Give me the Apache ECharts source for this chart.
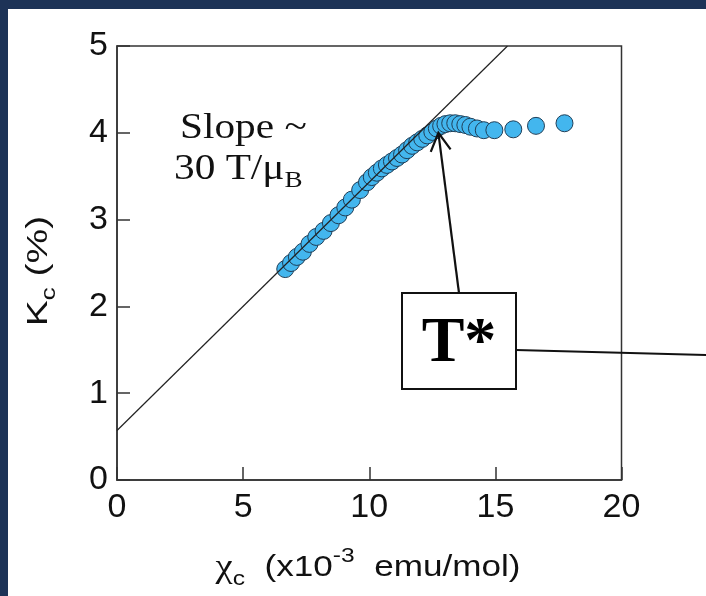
<!DOCTYPE html>
<html>
<head>
<meta charset="utf-8">
<script src="https://cdn.jsdelivr.net/npm/echarts@6/dist/echarts.min.js"></script>
<style>
  html, body { margin: 0; padding: 0; background: #1d3357; width: 706px; height: 596px; overflow: hidden; }
  #chart { position: absolute; left: 8px; top: 9px; width: 698px; height: 587px; background: #ffffff; }
</style>
</head>
<body>
<div id="chart"></div>
<script>
// Knight shift K_c versus susceptibility chi_c
const chiValues = [6.67, 6.90, 7.13, 7.37, 7.63, 7.90, 8.19, 8.48, 8.78, 9.05, 9.31, 9.64, 9.91,
  10.10, 10.30, 10.50, 10.70, 10.90, 11.10, 11.30, 11.50, 11.70, 11.90, 12.10, 12.30, 12.50,
  12.68, 12.85, 13.02, 13.21, 13.41, 13.61, 13.81, 14.01, 14.27, 14.54, 14.96, 15.71, 16.61, 17.74];
const kValues = [2.43, 2.50, 2.57, 2.63, 2.72, 2.80, 2.87, 2.96, 3.05, 3.14, 3.23, 3.34, 3.43,
  3.49, 3.54, 3.59, 3.63, 3.67, 3.71, 3.75, 3.80, 3.85, 3.89, 3.93, 3.97, 4.01,
  4.05, 4.08, 4.10, 4.11, 4.11, 4.10, 4.09, 4.07, 4.05, 4.03, 4.03, 4.04, 4.08, 4.11];

// linear fit through the high-temperature points
const fitX = [0, 15.48];
const fitY = [0.57, 5.0];

// point marked as T*
const tStar = [12.74, 4.0];

const xTicks = [0, 5, 10, 15, 20];
const yTicks = [0, 1, 2, 3, 4, 5];

const chart = echarts.init(document.getElementById('chart'));

const sans = 'Liberation Sans, Arial, sans-serif';
const serif = 'Liberation Serif, Times New Roman, serif';

const option = {
  animation: false,
  grid: {
    left: 109, right: 84.5, top: 37, bottom: 116,
    show: true, borderColor: '#333', borderWidth: 1.5, backgroundColor: 'transparent'
  },
  xAxis: {
    type: 'value', min: xTicks[0], max: xTicks[xTicks.length - 1], interval: 5,
    axisLine: { show: true, lineStyle: { color: '#333', width: 1.5 } },
    axisTick: { show: true, inside: true, length: 13, lineStyle: { color: '#333', width: 1.5 } },
    splitLine: { show: false },
    axisLabel: { fontFamily: sans, fontSize: 34, color: '#111', margin: 11 }
  },
  yAxis: {
    type: 'value', min: yTicks[0], max: yTicks[yTicks.length - 1], interval: 1,
    axisLine: { show: true, lineStyle: { color: '#333', width: 1.5 } },
    axisTick: { show: true, inside: true, length: 13, lineStyle: { color: '#333', width: 1.5 } },
    splitLine: { show: false },
    axisLabel: { fontFamily: sans, fontSize: 34, color: '#111', margin: 9 }
  },
  series: [
    {
      type: 'scatter',
      data: chiValues.map((x, i) => [x, kValues[i]]),
      symbolSize: 17,
      itemStyle: { color: '#43b6ee', borderColor: '#1f3e57', borderWidth: 1, opacity: 1 },
      z: 2
    },
    {
      type: 'line',
      data: fitX.map((x, i) => [x, fitY[i]]),
      showSymbol: false,
      lineStyle: { color: '#222', width: 1.2 },
      z: 3,
      silent: true
    }
  ]
};
chart.setOption(option);

// annotations: axis titles, slope text, T* box and arrow
const tip = chart.convertToPixel({ gridIndex: 0 }, tStar);
const box = { x: 394, y: 284, w: 114, h: 96 };
const boxTop = [box.x + 57, box.y];
const dx = tip[0] - boxTop[0], dy = tip[1] - boxTop[1];
const len = Math.sqrt(dx * dx + dy * dy);
const ux = dx / len, uy = dy / len;
const headLen = 18, headHalf = 10;
const baseX = tip[0] - ux * headLen, baseY = tip[1] - uy * headLen;
const px = -uy, py = ux;

chart.setOption({
  graphic: [
    {
      type: 'text', x: 360, y: 559, scaleX: 1.17, scaleY: 1,
      style: {
        text: '{chi|χ}{sub|c}{n|  (x10}{sup|-3}{n|  emu/mol)}',
        align: 'center', verticalAlign: 'middle',
        rich: {
          chi: { fontFamily: serif, fontSize: 33, fill: '#111', lineHeight: 44, verticalAlign: 'middle' },
          n: { fontFamily: sans, fontSize: 30, fill: '#111', lineHeight: 44, verticalAlign: 'middle' },
          sub: { fontFamily: sans, fontSize: 21, fill: '#111', lineHeight: 44, verticalAlign: 'bottom' },
          sup: { fontFamily: sans, fontSize: 21, fill: '#111', lineHeight: 44, verticalAlign: 'top' }
        }
      }
    },
    {
      type: 'text', x: 31, y: 262, rotation: Math.PI / 2, scaleX: 1.3, scaleY: 1,
      style: {
        text: '{n|K}{sub|c}{n| (%)}',
        align: 'center', verticalAlign: 'middle',
        rich: {
          n: { fontFamily: sans, fontSize: 30, fill: '#111', lineHeight: 40, verticalAlign: 'middle' },
          sub: { fontFamily: sans, fontSize: 20, fill: '#111', lineHeight: 40, verticalAlign: 'bottom' }
        }
      }
    },
    {
      type: 'text', x: 172, y: 102, scaleX: 1.18, scaleY: 1,
      style: {
        text: 'Slope ~', fontFamily: serif, fontSize: 35, fill: '#111'
      }
    },
    {
      type: 'text', x: 166, y: 139, scaleX: 1.18, scaleY: 1,
      style: {
        text: '{n|30 T/μ}{sub|B}',
        rich: {
          n: { fontFamily: serif, fontSize: 35, fill: '#111', lineHeight: 44, verticalAlign: 'middle' },
          sub: { fontFamily: serif, fontSize: 23, fill: '#111', lineHeight: 44, verticalAlign: 'bottom' }
        }
      }
    },
    {
      type: 'rect', shape: { x: box.x, y: box.y, width: box.w, height: box.h },
      style: { fill: '#fff', stroke: '#111', lineWidth: 2 }, z: 10
    },
    {
      type: 'text', x: box.x + box.w / 2, y: box.y + box.h / 2 + 3, z: 11,
      style: {
        text: 'T*', fontFamily: serif, fontWeight: 'bold', fontSize: 64, fill: '#000',
        align: 'center', verticalAlign: 'middle'
      }
    },
    {
      type: 'line', z: 10,
      shape: { x1: box.x + box.w, y1: box.y + 57, x2: 698, y2: box.y + 62 },
      style: { stroke: '#111', lineWidth: 2 }
    },
    {
      type: 'line', z: 10,
      shape: { x1: boxTop[0], y1: boxTop[1], x2: tip[0], y2: tip[1] },
      style: { stroke: '#111', lineWidth: 2.2 }
    },
    {
      type: 'polyline', z: 10,
      shape: { points: [
        [baseX + px * headHalf, baseY + py * headHalf],
        [tip[0], tip[1]],
        [baseX - px * headHalf, baseY - py * headHalf]
      ] },
      style: { stroke: '#111', lineWidth: 2.2, fill: null }
    }
  ]
});
</script>
</body>
</html>
